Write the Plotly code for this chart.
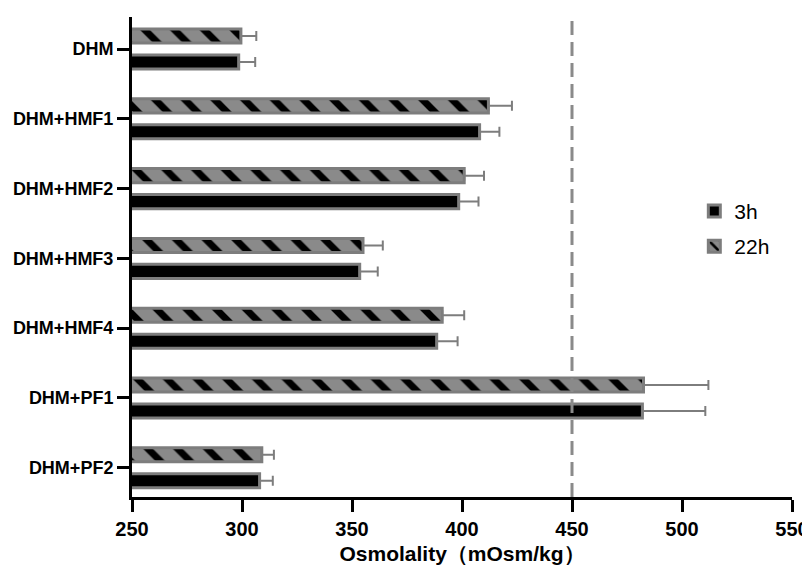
import plotly.graph_objects as go

groups = ['DHM', 'DHM+HMF1', 'DHM+HMF2', 'DHM+HMF3', 'DHM+HMF4', 'DHM+PF1', 'DHM+PF2']

mean_3h = [298.5, 408, 398.5, 353.5, 388.5, 482, 308]
sd_3h = [7.5, 9, 9, 8.2, 9.5, 28.6, 6]

mean_22h = [299.5, 412, 401, 355, 391, 482.5, 309]
sd_22h = [7, 10.7, 9, 9, 10, 29.5, 5.5]

limit = 450
x_ticks = [250, 300, 350, 400, 450, 500, 550]

GRAY = '#8a8a8a'
EDGE = '#7d7d7d'
FONT = 'Liberation Sans, Arial, sans-serif'

fig = go.Figure()

# 3h - black bars
fig.add_trace(go.Bar(
    y=groups, x=mean_3h, orientation='h', name='3h',
    legendgroup='a',
    marker=dict(color='black', line=dict(color=EDGE, width=3)),
    error_x=dict(type='data', array=sd_3h, arrayminus=[0] * len(sd_3h),
                 symmetric=False, color=EDGE, thickness=2, width=5),
))

# 22h - hatched gray bars
fig.add_trace(go.Bar(
    y=groups, x=mean_22h, orientation='h', name='22h',
    legendgroup='b',
    marker=dict(color=GRAY, line=dict(color=EDGE, width=3),
                pattern=dict(shape='\\', fgcolor='black', bgcolor=GRAY,
                             size=21, solidity=0.33, fgopacity=1)),
    error_x=dict(type='data', array=sd_22h, arrayminus=[0] * len(sd_22h),
                 symmetric=False, color=EDGE, thickness=2, width=5),
))

# limit line
fig.add_shape(type='line', x0=limit, x1=limit, xref='x', y0=0, y1=1, yref='paper',
              line=dict(color=GRAY, width=3, dash='14px,7px'), layer='above')

# page body has an 8px margin, so size/margins are shifted to fit the window
fig.update_layout(
    width=802, height=568,
    margin=dict(l=124, r=18, t=9, b=79, autoexpand=False),
    plot_bgcolor='white', paper_bgcolor='white',
    barmode='group', bargap=0.255, bargroupgap=0.46,
    font=dict(family=FONT, color='black'),
    legend=dict(x=0.852, y=0.638, xanchor='left', yanchor='top',
                font=dict(size=21, family=FONT), tracegroupgap=5,
                bgcolor='rgba(0,0,0,0)'),
    xaxis=dict(range=[250, 550], tickvals=x_ticks, showgrid=False, zeroline=False,
               showline=True, linecolor='black', linewidth=3,
               ticks='outside', ticklen=12, tickwidth=3, tickcolor='black',
               tickfont=dict(size=20, weight='bold'), automargin=False,
               title=dict(text='Osmolality（mOsm/kg）', standoff=8,
                          font=dict(size=21, weight='bold'))),
    yaxis=dict(categoryorder='array', categoryarray=groups[::-1],
               range=[-0.42, 6.46], showgrid=False, zeroline=False,
               showline=True, linecolor='black', linewidth=3,
               ticks='outside', ticklen=12, tickwidth=3, tickcolor='black',
               tickfont=dict(size=18, weight='bold'), automargin=False),
)

fig.write_html("out.html")
